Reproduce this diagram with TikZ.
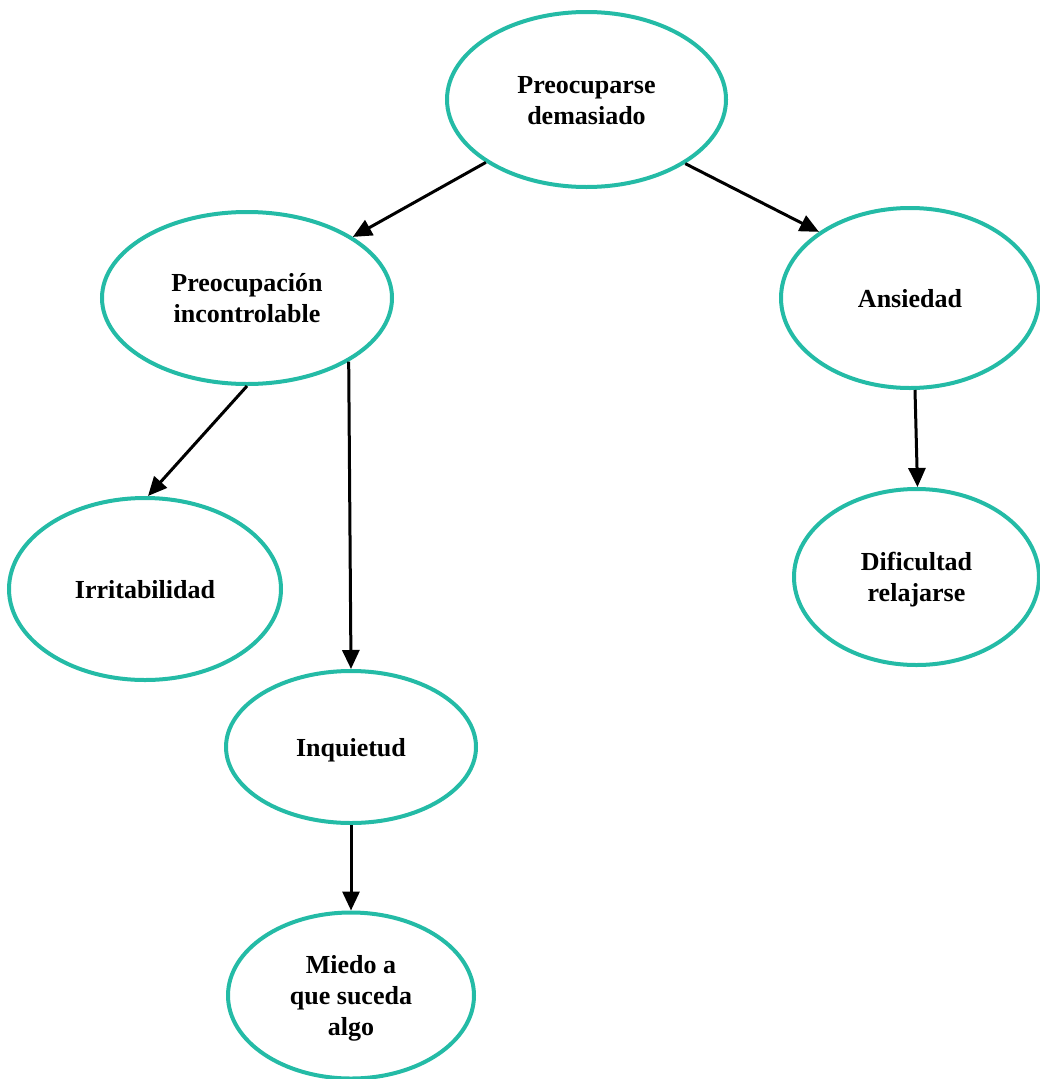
\documentclass[tikz,border=0pt]{standalone}
\usepackage{fontspec}
\setmainfont{Liberation Serif}
\usetikzlibrary{shapes.geometric,arrows.meta}
\definecolor{tealring}{RGB}{36,187,166}
% centred label text, set a little below the geometric centre
\newcommand\bubbletext[1]{\raisebox{-3pt}[\height][\depth]{\begin{tabular}{@{}c@{}}#1\end{tabular}}}
\begin{document}
\begin{tikzpicture}[x=1pt,y=-1pt,
  bubble/.style={ellipse,draw=tealring,line width=4pt,inner sep=0pt,
    font=\fontsize{26}{31}\selectfont\bfseries},
  link/.style={line width=3pt,-{Triangle[length=19pt,width=17pt]}}]
\useasboundingbox (0,0) rectangle (1040,1079);

% topic bubbles
\node[bubble,minimum width=279pt,minimum height=175pt] (top) at (586.5,99.5) {\bubbletext{Preocuparse\\demasiado}};
\node[bubble,minimum width=290pt,minimum height=172pt] (inc) at (247,298) {\bubbletext{Preocupación\\incontrolable}};
\node[bubble,minimum width=258pt,minimum height=180pt] (ans) at (910,298) {\bubbletext{Ansiedad}};
\node[bubble,minimum width=272pt,minimum height=182pt] (irr) at (145,589) {\bubbletext{Irritabilidad}};
\node[bubble,minimum width=250pt,minimum height=152pt] (inq) at (351,747) {\bubbletext{Inquietud}};
\node[bubble,minimum width=246pt,minimum height=166pt] (mie) at (351,995.5) {\bubbletext{Miedo a\\que suceda\\algo}};
\node[bubble,minimum width=245pt,minimum height=176pt] (dif) at (916.5,577) {\bubbletext{Dificultad\\relajarse}};

% connectors
\draw[link] (top.212.7) -- (inc.30.6);
\draw[link] (top.327.3) -- (ans.144.6);
\draw[link] (inc.south) -- ([xshift=3pt]irr.north);
\draw[link] (inc.328.5) -- (inq.north);
\draw[link] ([xshift=5pt]ans.south) -- ([xshift=1pt]dif.north);
\draw[link] (inq.south) -- (mie.north);
\end{tikzpicture}
\end{document}
